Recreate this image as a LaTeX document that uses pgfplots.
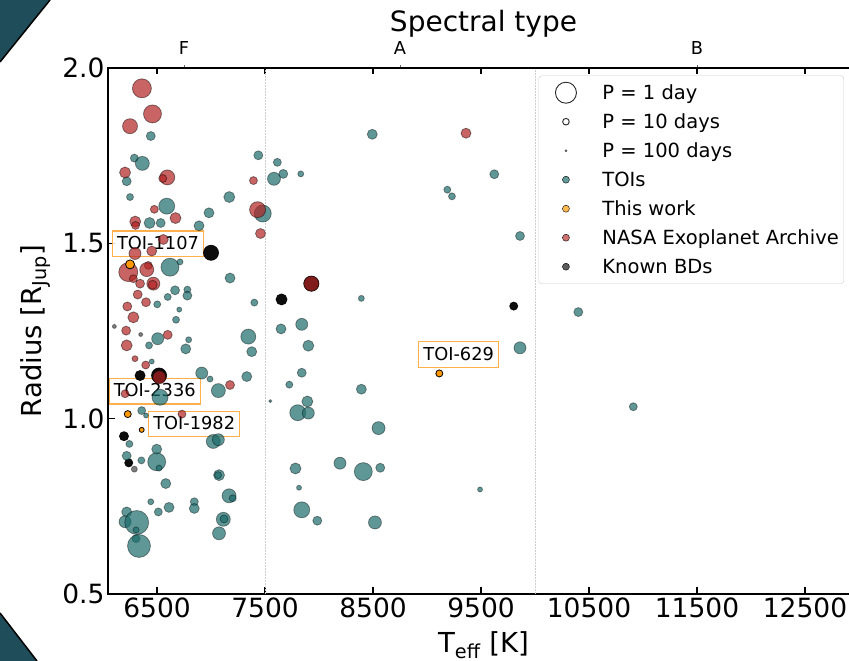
\documentclass[border=0pt]{standalone}
\usepackage{fontspec}
\setmainfont{DejaVu Sans}
\usepackage{pgfplots}
\usepackage{pgfplotstable}
\pgfplotsset{compat=1.18}
\definecolor{toic}{HTML}{1B6B6B}
\definecolor{nasac}{HTML}{B22222}
\definecolor{thisc}{HTML}{FF9900}
\definecolor{corner}{HTML}{1F4D5A}
\definecolor{annot}{HTML}{FFB04D}

\pgfplotstableread{
T R r
6442 1.806 4.5
6290 1.743 4
6364 1.728 7
6219 1.677 4.5
6250 1.632 3.5
7438 1.751 4.5
7614 1.731 4
7669 1.698 4.5
7583 1.684 6.5
7831 1.698 3
7169 1.632 5.5
6981 1.587 5
6889 1.550 5
7479 1.585 8.5
6590 1.606 8
6431 1.558 5.5
6534 1.558 4.5
8493 1.811 5
9188 1.653 3.5
9231 1.634 3.5
9623 1.697 4.5
9861 1.521 4.5
7401 1.331 3.5
8392 1.343 3
7648 1.256 5
7840 1.269 6
7901 1.208 5.5
9861 1.202 6
7345 1.234 7.5
7377 1.191 5
7331 1.120 5
7840 1.131 4.5
7725 1.097 3.5
8392 1.084 5
7549 1.050 1.5
7892 1.049 5.5
7803 1.017 8
7901 1.016 6
8551 0.973 6.5
7782 0.858 5.5
8194 0.873 6
8410 0.849 9
8567 0.860 4.5
7815 0.803 2.5
9491 0.798 2.5
7840 0.740 8
7984 0.709 4.5
8518 0.704 6.5
10401 1.304 4.5
10910 1.034 4
6620 1.432 9
6713 1.447 3
7176 1.401 5
6667 1.366 4.5
6781 1.368 3.5
6781 1.351 4.5
6599 1.347 3.5
6706 1.311 2.5
6676 1.282 3.5
6502 1.326 3.5
6506 1.228 6
6426 1.209 3.5
6766 1.199 5
6793 1.225 3
6451 1.163 2.5
6914 1.130 6
6991 1.113 3
7068 1.080 7
6528 1.061 8
6358 1.023 4
6398 1.009 2.5
6244 0.928 3.5
7021 0.935 7
7068 0.940 6
6497 0.913 5
6219 0.894 4.5
6355 0.881 3.5
6497 0.877 9
6519 0.859 3
6581 0.815 5
7074 0.839 5.5
7065 0.839 3.5
6442 0.763 3
6512 0.734 4
6611 0.747 5
6845 0.763 4
6845 0.744 5
7167 0.780 7
7201 0.773 3.5
7114 0.713 7
7120 0.714 4
7074 0.673 6.5
6219 0.734 5
6204 0.706 6
6312 0.704 12
6306 0.683 3
6306 0.658 4
6333 0.637 11.5
}\toi

\pgfplotstableread{
T R r
6360 1.942 9.5
6458 1.869 9
6250 1.834 7.5
6204 1.702 5.5
6595 1.688 7.5
6553 1.685 4
7393 1.679 4
9361 1.814 5
7431 1.596 8
7458 1.528 5
6475 1.597 4
6671 1.572 5.5
6298 1.562 5.5
6301 1.551 4
6558 1.511 5
6296 1.471 6
6451 1.478 5
6234 1.418 9.5
6281 1.399 4
6419 1.437 4
6405 1.425 7
6466 1.385 6.5
6460 1.382 4.5
6343 1.385 4.5
6321 1.354 4.5
6398 1.332 4.5
6225 1.320 4.5
6281 1.289 5.5
6214 1.251 4.5
6599 1.239 4.5
6219 1.209 5.5
6296 1.171 3
6395 1.153 4
7176 1.096 4.5
6521 1.118 6.5
7929 1.385 7.5
6204 1.071 4
6731 1.013 4
}\nasa

\pgfplotstableread{
T R r
7000 1.473 7.5
7653 1.340 5.5
7929 1.385 7.5
6519 1.123 7.5
6343 1.123 5
9803 1.321 4
6194 0.950 4.5
6238 0.874 4
}\bds

\pgfplotstableread{
T R r
6290 0.856 3
6105 1.263 2
6349 1.240 2
}\bdsfaint

\pgfplotstableread{
T R r
6250 1.440 4.5
6229 1.013 3.5
6358 0.968 2.5
9114 1.129 3.5
}\thiswork

\pgfplotsset{
  bubble/.style n args={4}{
    scatter, only marks, mark=*, forget plot, draw=#2, fill=#1,
    visualization depends on={\thisrow{r}\as\prad},
    scatter/@pre marker code/.code={\begin{scope}[mark size=\prad pt, fill=#1, draw=#2, fill opacity=#3, draw opacity=#4, line width=0.8pt]},
    scatter/@post marker code/.code={\end{scope}},
  },
}
\tikzset{
  anno/.style={draw=annot, line width=1.1pt, fill=white, fill opacity=0.8, text opacity=1,
    font=\fontsize{17.8}{20}\selectfont, inner xsep=4.5pt, inner ysep=4.2pt,
    text height=14.1pt, text depth=2.9pt},
}

\begin{document}
\begin{tikzpicture}
\fill[corner] (0pt,661pt) -- (50pt,661pt) -- (0pt,599pt) -- cycle;
\draw[black, line width=1.5pt] (50pt,661pt) -- (0pt,599pt);
\fill[corner] (0pt,0pt) -- (37pt,0pt) -- (0pt,48pt) -- cycle;
\draw[black, line width=1.5pt] (37pt,0pt) -- (0pt,48pt);

\begin{axis}[
  at={(108pt,67pt)}, anchor=south west,
  scale only axis, width=751pt, height=526pt,
  xmin=6046, xmax=13000, ymin=0.5, ymax=2.0,
  scaled x ticks=false, scaled y ticks=false,
  xtick={6500,7500,8500,9500,10500,11500,12500},
  xticklabels={6500,7500,8500,9500,10500,11500,12500},
  ytick={0.5,1.0,1.5,2.0}, yticklabels={0.5,1.0,1.5,2.0},
  xtick pos=both, xticklabel pos=lower, ytick pos=left,
  tick align=inside, major tick length=6.5pt,
  every tick/.style={black, line width=1.3pt},
  axis line style={black, line width=1.4pt},
  ticklabel style={font=\fontsize{26.5}{30}\selectfont},
  xlabel={T\textsubscript{eff} [K]},
  ylabel={Radius [R\textsubscript{Jup}]},
  every axis x label/.style={at={(axis description cs:0.5,-0.1103)}, anchor=base, font=\fontsize{27.5}{32}\selectfont},
  every axis y label/.style={at={(axis description cs:-0.08855,0.5)}, rotate=90, anchor=base, font=\fontsize{27.5}{32}\selectfont},
  legend style={at={(0.5733,0.9857)}, anchor=north west, draw=black!20, rounded corners=3pt,
    fill=white, fill opacity=0.8, text opacity=1,
    font=\fontsize{19.5}{23}\selectfont, inner xsep=5pt, inner ysep=2.5pt,
    row sep=0pt, column sep=26pt,
    nodes={inner sep=0pt, text height=21.5pt, text depth=7.5pt}},
  legend cell align=left,
  legend image code/.code={\path (-22pt,0pt); \draw[#1] plot coordinates {(0pt,0pt)};},
]
\draw[black!20, dash pattern=on 1.5pt off 1.5pt, line width=1pt] (axis cs:7500,0.5) -- (axis cs:7500,2.0);
\draw[black!20, dash pattern=on 1.5pt off 1.5pt, line width=1pt] (axis cs:10000,0.5) -- (axis cs:10000,2.0);

\addplot[bubble={black}{black}{0.95}{0.9}] table[x=T,y=R] {\bds};
\addplot[bubble={black}{black}{0.5}{0.4}] table[x=T,y=R] {\bdsfaint};
\addplot[bubble={toic}{black}{0.7}{0.4}] table[x=T,y=R] {\toi};
\addplot[bubble={nasac}{black}{0.7}{0.45}] table[x=T,y=R] {\nasa};
\addplot[bubble={thisc}{black}{1}{1}] table[x=T,y=R] {\thiswork};

\node[anno] at (axis cs:6509,1.499) {TOI-1107};
\node[anno] at (axis cs:6479,1.078) {TOI-2336};
\node[anno] at (axis cs:6844,0.985) {TOI-1982};
\node[anno] at (axis cs:9293,1.183) {TOI-629};

\addlegendimage{only marks, mark=o, mark size=10.5pt, mark options={draw=black!85, line width=0.9pt}}
\addlegendentry{P = 1 day}
\addlegendimage{only marks, mark=o, mark size=3.3pt, mark options={draw=black!85, line width=0.9pt}}
\addlegendentry{P = 10 days}
\addlegendimage{only marks, mark=*, mark size=1.1pt, mark options={fill=black!70, draw=black!70}}
\addlegendentry{P = 100 days}
\addlegendimage{only marks, mark=*, mark size=3.5pt, mark options={fill=toic!85, draw=none}}
\addlegendentry{TOIs}
\addlegendimage{only marks, mark=*, mark size=3.5pt, mark options={fill=thisc!85, draw=none}}
\addlegendentry{This work}
\addlegendimage{only marks, mark=*, mark size=3.5pt, mark options={fill=nasac!80, draw=none}}
\addlegendentry{NASA Exoplanet Archive}
\addlegendimage{only marks, mark=*, mark size=3.5pt, mark options={fill=black!80, draw=none}}
\addlegendentry{Known BDs}
\end{axis}

\begin{axis}[
  at={(108pt,67pt)}, anchor=south west,
  scale only axis, width=751pt, height=526pt,
  xmin=6046, xmax=13000, ymin=0.5, ymax=2.0,
  scaled x ticks=false,
  axis x line*=top, axis y line=none,
  xtick={6750,8750,11500}, xticklabels={F,A,B},
  tick align=outside, major tick length=3pt,
  every tick/.style={black!60, line width=0.8pt},
  axis line style={black, line width=1.4pt},
  xticklabel style={font=\fontsize{17.8}{20}\selectfont},
  xticklabel shift=6.5pt,
  xlabel={Spectral type},
  every axis x label/.style={at={(axis description cs:0.5,1.06901)}, anchor=base, font=\fontsize{28}{32}\selectfont},
]
\end{axis}
\pgfresetboundingbox
\useasboundingbox (0pt,0pt) rectangle (849pt,661pt);
\end{tikzpicture}
\end{document}
